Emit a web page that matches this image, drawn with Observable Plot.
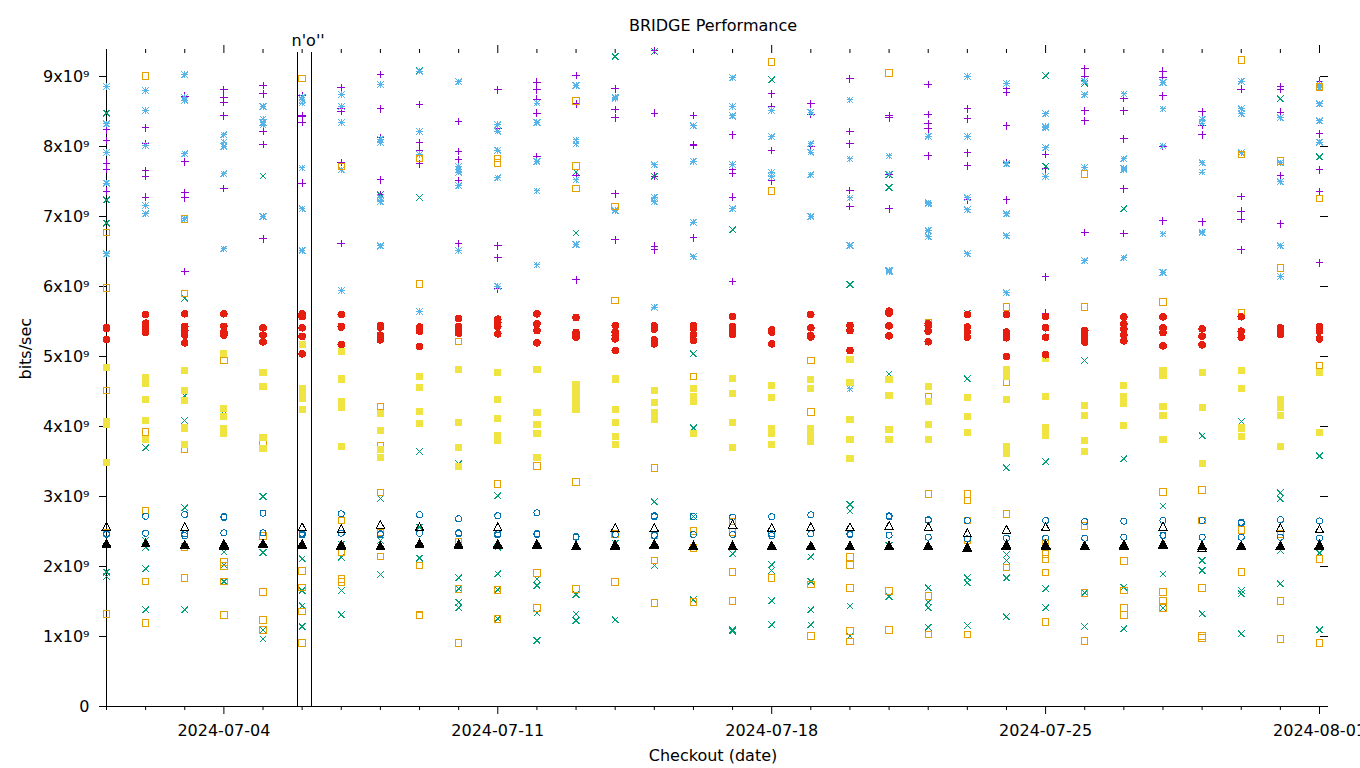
<!DOCTYPE html>
<html><head><meta charset="utf-8">
<script src="https://cdn.jsdelivr.net/npm/d3@7"></script>
<script src="https://cdn.jsdelivr.net/npm/@observablehq/plot@0.6"></script>
<style>
body{margin:0;background:#fff}
svg{display:block}
</style>
</head><body><div id="chart"></div>
<script>
// ---------- data (values in units of 1e9 bits/sec, one inner list per day 2024-07-01 .. 2024-08-01) ----------
const titleText = "BRIDGE Performance";
const xLabel = "Checkout (date)";
const yLabel = "bits/sec";
const firstDay = "2024-07-01";
const lastDay = "2024-08-01";
const majorTickDates = ["2024-07-04","2024-07-11","2024-07-18","2024-07-25","2024-08-01"];
const yTickValues = [0,1e9,2e9,3e9,4e9,5e9,6e9,7e9,8e9,9e9];
const yMax = 9.343e9;
const markerLineDates = ["2024-07-05T21:20Z","2024-07-06T05:55Z"];
const markerLabelDate = "2024-07-06T03:40Z";
const markerLabel = "n'o''";

const purplePlus = [
 [8.238,8.086,7.762,7.676,7.362],[8.267,8.04,7.657,7.571,7.276],[8.72,7.78,7.343,7.267,6.214],[8.81,8.695,8.633,8.438,7.4],
 [8.871,8.752,8.219,8.029,6.68],[8.73,8.44,8.43,8.343,7.476],[8.838,8.538,8.5,7.771,6.614],[9.028,8.538,8.124,7.524,7.31],
 [8.6,8.052,7.943,7.752],[8.357,7.929,7.81,7.514,6.614],[8.81,8.252,6.58,6.41,5.967],[8.919,8.81,8.676,8.476,7.857],
 [9.014,8.61,7.586,6.095],[8.824,8.529,8.41,7.324,6.667],[9.37,8.476,7.576,6.576,6.524],[8.443,8.03,8.02,6.695],
 [8.167,7.676,7.619,7.276,6.071],[8.752,8.571,7.943,7.51],[8.61,8.457,8.0],[8.967,8.214,8.038,7.371,7.143],
 [8.438,8.41,7.6,7.11],[8.886,8.457,8.324,8.252,7.867],[8.538,8.395,7.91,7.724,7.238],[8.824,8.776,8.295,7.771,7.238],
 [7.89,7.681,6.138,5.619],[9.11,9.0,8.51,8.367,6.771],[8.69,8.51,8.11,7.395,6.757],[9.076,8.99,8.724,8.0,6.938],
 [8.495,8.3,8.167,6.924],[8.819,7.286,7.076,6.962,6.524],[8.857,8.819,8.49,7.586,6.895],[8.933,8.181,7.667,7.357,6.338]
];
const greenTimes = [
 [8.476,7.238,6.905,1.919,1.857],[3.695,2.371,2.276,1.967,1.381],[5.833,4.44,4.086,2.838,1.381],[4.18,2.205,2.02,1.786],
 [7.581,3.0,2.2,1.095,0.967],[2.11,1.657,1.438,1.143],[2.32,2.133,1.657,1.31],[7.31,2.971,2.371,1.886],
 [9.086,7.271,3.643,2.562,2.119],[3.467,1.838,1.681,1.49,1.41],[3.01,2.276,1.895,1.667,1.252],[1.824,1.729,1.333,0.943],
 [7.633,6.767,1.6,1.324,1.229],[9.286,2.33,1.238],[9.357,7.576,2.924,2.014],[5.038,3.98,2.714,1.524],
 [6.81,2.181,1.095,1.08],[8.952,2.024,1.943,1.51,1.167],[2.138,1.786,1.381,1.167],[6.029,2.886,2.79,1.438,1.01],
 [7.6,7.414,4.75,2.3,1.571],[1.695,1.49,1.41,1.129],[5.62,4.68,1.838,1.767,1.157],[3.41,2.171,2.086,1.838,1.281],
 [9.01,7.719,3.495,1.681,1.41],[8.905,4.943,1.624,1.143],[7.11,3.538,1.705,1.11],[2.867,1.895,1.41],
 [3.867,2.086,1.943,1.324],[4.071,1.657,1.61,1.038],[8.681,3.052,2.967,2.229,1.752],[7.852,3.581,2.19,1.095]
];
const skyAsterisk = [
 [8.857,8.324,7.914,7.476,6.467],[8.8,8.514,8.014,7.157,7.038],[9.028,8.70,8.66,7.895,6.967],[8.167,8.062,8.0,7.61,6.538],
 [8.571,8.39,8.343,8.305,7.0],[8.705,8.667,8.62,7.695,7.11,6.514],[8.743,8.571,8.343,7.667,5.943],[8.886,8.105,8.057,7.267,7.21,6.58],
 [9.076,8.214,7.886,5.643],[8.924,7.714,7.676,7.633,7.438,6.514],[8.314,8.219,7.943,7.552,6.0],[8.619,8.343,7.786,7.367,6.31],
 [8.871,8.095,8.038,7.524,6.6],[8.705,8.69,7.086],[7.738,7.276,7.21,5.705],[8.295,7.79,6.919,6.424],
 [8.981,8.571,8.438,7.743,7.11],[8.514,8.138,7.629,7.571],[8.49,8.038,7.919,7.595,7.0],[8.667,7.824,7.267,6.586,4.538],
 [7.867,7.61,6.229,6.215],[8.143,7.195,7.18,6.8,6.714],[9.0,8.143,7.267,7.095,6.467],[8.9,7.752,7.038,6.724,5.91],
 [8.467,8.286,8.267,7.981,7.57],[8.933,8.738,7.7,6.367],[8.752,7.824,7.69,7.667,6.41],[8.914,8.538,8.01,6.752,6.2],
 [8.39,8.333,7.767,7.633,6.78,6.77],[8.933,8.538,8.467,7.91],[8.41,7.767,7.495,6.581,6.143],[8.886,8.838,8.61,8.367,8.062]
];
const orangeSquare = [
 [6.771,5.98,4.514,2.476,1.324],[9.009,3.924,2.8,1.786,1.195],[6.967,5.9,3.676,2.276,1.838],[4.943,2.062,2.005,1.786,1.31],
 [3.752,2.438,1.638,1.238,1.095],[8.971,1.938,1.7,1.357,0.91],[7.714,2.657,2.205,1.824,1.776],[4.286,3.729,3.057,2.49,2.143],
 [7.829,6.038,2.014,1.31,1.3],[5.214,2.348,1.681,0.91],[7.829,7.762,3.181,1.667,1.252],[3.438,1.91,1.41],
 [8.652,7.724,7.4,3.21,1.681],[7.143,5.8,2.467,1.781],[3.41,2.45,2.086,1.481],[4.714,2.505,2.267,1.495],
 [2.643,2.495,1.924,1.51],[9.209,7.367,1.838],[4.943,4.21,1.743,1.01],[2.138,2.024,1.695,1.081,0.929],
 [9.052,1.652,1.095],[5.476,4.419,3.038,1.576,1.029],[3.038,2.943,2.657,2.381,1.029],[5.71,4.633,2.752,1.986],
 [2.333,2.176,2.105,1.914,1.21],[7.61,5.71,2.576,1.624,0.938],[2.081,1.657,1.41,1.31],[5.781,3.067,1.638,1.514,1.41],
 [3.095,2.657,1.695,1.01,0.976],[9.238,7.886,5.619,2.524,1.924],[7.795,6.267,2.467,1.51,0.967],[8.848,7.257,4.871,2.11,0.91]
];
const yellowSquare = [
 [4.838,4.07,4.03,3.486],[4.70,4.62,4.381,4.086,3.81],[4.795,4.514,4.371,3.98,3.743],[5.038,4.252,4.143,3.967,3.905],
 [4.767,4.571,3.848,3.681],[5.17,4.54,4.47,4.40,4.238],[5.067,4.68,4.36,4.28,3.714],[4.19,3.938,3.667,3.552],
 [4.714,4.562,4.214,4.038],[4.81,4.062,3.705,3.429],[4.767,4.381,4.11,3.871,3.8],[4.82,4.195,4.024,3.895,3.552],
 [4.6,4.5,4.42,4.33,4.25],[4.68,4.238,4.052,3.857,3.743],[4.51,4.338,4.2,4.1],[4.54,4.43,4.357,3.895],
 [4.69,4.467,4.052,3.695],[4.581,4.41,3.97,3.9,3.743],[4.67,4.538,3.97,3.88,3.79],[4.952,4.633,4.095,3.81,3.538],
 [4.67,4.438,3.952,3.814],[4.571,4.357,4.029,3.814],[4.419,4.143,3.91],[4.81,4.714,4.381,3.714,3.62],
 [4.967,4.424,3.98,3.871],[4.3,4.16,3.795,3.638],[4.581,4.43,4.33,4.014],[4.8,4.73,4.286,4.157,3.81],
 [4.776,4.276,3.467],[4.8,4.538,3.98,3.86],[4.39,4.28,4.16,3.71],[4.776,3.919]
];
const blueCircle = [
 [2.47,2.46],[2.719,2.476],[2.743,2.467,2.44],[2.714,2.70,2.481],
 [2.762,2.48],[2.476,2.45,2.46],[2.752,2.476],[2.467,2.455],
 [2.738,2.476],[2.681,2.481,2.47],[2.724,2.467,2.45],[2.767,2.471,2.46],
 [2.429,2.42],[2.457],[2.724,2.71,2.448,2.44],[2.714,2.457],
 [2.705,2.457],[2.71,2.467,2.44],[2.738,2.467],[2.467,2.455],
 [2.724,2.71,2.448],[2.667,2.66,2.419],[2.657,2.395],[2.405],
 [2.657,2.405],[2.643,2.405],[2.648,2.419],[2.657,2.448,2.44],
 [2.657,2.419],[2.633,2.62,2.419],[2.667,2.419],[2.652,2.405]
];
const redDisc = [
 [5.41,5.40,5.24],[5.6,5.476,5.41,5.343],[5.61,5.43,5.37,5.305,5.195],[5.61,5.43,5.343,5.305],
 [5.41,5.305,5.21],[5.61,5.57,5.41,5.286,5.038],[5.6,5.43,5.42,5.17],[5.443,5.42,5.305,5.238],
 [5.42,5.362,5.143],[5.543,5.43,5.39,5.333],[5.533,5.486,5.43,5.324],[5.61,5.467,5.371,5.195],
 [5.557,5.343,5.31,5.276],[5.443,5.348,5.3,5.252,5.086],[5.438,5.39,5.238,5.181],[5.443,5.4,5.31,5.229],
 [5.571,5.43,5.381,5.314],[5.381,5.348,5.181],[5.6,5.41,5.3,5.28],[5.443,5.371,5.086],
 [5.647,5.619,5.438,5.295],[5.467,5.443,5.362,5.21],[5.6,5.42,5.348,5.276],[5.6,5.348,5.3,5.267,5.0],
 [5.571,5.41,5.276,5.024],[5.371,5.324,5.262,5.205],[5.567,5.467,5.395,5.31,5.224],[5.567,5.41,5.343,5.152],
 [5.395,5.29,5.167],[5.567,5.362,5.276],[5.41,5.371,5.314],[5.43,5.362,5.252]
];
const blackOpenTriangle = [
 [2.571,2.32],[2.333],[2.562,2.31],[2.31],
 [2.32],[2.562,2.31],[2.533,2.30],[2.595,2.29],
 [2.562,2.32],[2.31],[2.562,2.31],[2.31],
 [2.3],[2.552,2.30],[2.552,2.31],[2.29],
 [2.6,2.29],[2.552,2.29],[2.562,2.29],[2.562,2.29],
 [2.581,2.29],[2.562,2.29],[2.476,2.27],[2.524,2.30],
 [2.562,2.30],[2.3],[2.30],[2.571,2.31],
 [2.29,2.262],[2.29],[2.548,2.29],[2.533,2.30]
];
const blackFilledTriangle = [
 [2.333],[2.333],[2.314],[2.324,2.30],
 [2.333],[2.324],[2.314],[2.295],
 [2.333],[2.324],[2.324],[2.324],
 [2.3],[2.314],[2.324],[2.3],
 [2.3],[2.3],[2.3],[2.3],
 [2.3],[2.3],[2.276],[2.314],
 [2.314],[2.3],[2.314],[2.324],
 [2.3],[2.3],[2.3],[2.314]
];

// ---------- gnuplot-like point symbols ----------
function sym(fn){ return {draw(ctx, size){ fn(ctx, Math.sqrt(size / Math.PI)); }}; }
const plusSym = sym((c,s)=>{c.moveTo(-s,0);c.lineTo(s,0);c.moveTo(0,-s);c.lineTo(0,s);});
const timesSym = sym((c,s)=>{c.moveTo(-s,-s);c.lineTo(s,s);c.moveTo(-s,s);c.lineTo(s,-s);});
const starSym = sym((c,s)=>{c.moveTo(-s,0);c.lineTo(s,0);c.moveTo(0,-s);c.lineTo(0,s);
  c.moveTo(-s,-s);c.lineTo(s,s);c.moveTo(-s,s);c.lineTo(s,-s);});
const squareSym = sym((c,s)=>{c.rect(-s,-s,2*s,2*s);});
const circleSym = sym((c,s)=>{c.moveTo(s,0);c.arc(0,0,s,0,2*Math.PI);c.closePath();});
const triSym = sym((c,s)=>{c.moveTo(0,-s);c.lineTo(s,0.85*s);c.lineTo(-s,0.85*s);c.closePath();});

const seriesDefs = [
  {data: purplePlus, symbol: plusSym, r: 3.8, stroke: "#9400d3", fill: "none"},
  {data: greenTimes, symbol: timesSym, r: 3.3, stroke: "#009e73", fill: "none"},
  {data: skyAsterisk, symbol: starSym, r: 3.3, stroke: "#56b4e9", fill: "none"},
  {data: orangeSquare, symbol: squareSym, r: 3.2, stroke: "#e69f00", fill: "none"},
  {data: yellowSquare, symbol: squareSym, r: 3.6, stroke: "none", fill: "#f0e442"},
  {data: blueCircle, symbol: circleSym, r: 3.0, stroke: "#0072b2", fill: "none"},
  {data: redDisc, symbol: circleSym, r: 3.8, stroke: "none", fill: "#e51e10"},
  {data: blackOpenTriangle, symbol: triSym, r: 4.2, stroke: "#000000", fill: "none"},
  {data: blackFilledTriangle, symbol: triSym, r: 4.2, stroke: "#000000", fill: "#000000"}
];

const day0 = new Date(firstDay + "T00:00Z");
const dayDates = d3.utcDays(day0, d3.utcDay.offset(new Date(lastDay + "T00:00Z"), 1));
const majors = majorTickDates.map(d => new Date(d + "T00:00Z"));
const isMajor = d => majors.some(m => +m === +d);
const minors = dayDates.filter(d => !isMajor(d));

function rows(perDay){
  const out = [];
  perDay.forEach((vals, i) => vals.forEach(v => out.push({date: dayDates[i], value: v * 1e9})));
  return out;
}

const fmtY = v => v === 0 ? "0" : `${Math.round(v / 1e9)}x10\u2079`;
const font = "'DejaVu Sans', sans-serif";

const pointMarks = seriesDefs.map(s => Plot.dot(rows(s.data), {
  x: "date", y: "value", symbol: s.symbol, r: s.r,
  stroke: s.stroke, fill: s.fill, strokeWidth: 1, shapeRendering: "crispEdges"
}));

const chart = Plot.plot({
  width: 1360, height: 768,
  marginLeft: 106, marginRight: 41, marginTop: 52, marginBottom: 62,
  style: {fontFamily: font, fontSize: "16px", color: "#000", background: "#fff"},
  x: {type: "utc", domain: [day0, new Date(lastDay + "T00:00Z")], axis: null},
  y: {domain: [0, yMax], axis: null},
  marks: [
    // ticks (outward, mirrored top/right)
    Plot.axisX(minors, {anchor: "bottom", tickSize: 4, tickFormat: () => "", label: null, strokeWidth: 1}),
    Plot.axisX(majors, {anchor: "bottom", tickSize: 8, tickPadding: 10, tickFormat: d3.utcFormat("%Y-%m-%d"), label: null, fontSize: 16, strokeWidth: 1}),
    Plot.axisX(minors, {anchor: "top", tickSize: 4, tickFormat: () => "", label: null, strokeWidth: 1}),
    Plot.axisX(majors, {anchor: "top", tickSize: 8, tickFormat: () => "", label: null, strokeWidth: 1}),
    Plot.axisY(yTickValues, {anchor: "left", tickSize: 7, tickPadding: 10, tickFormat: fmtY, label: null, fontSize: 16, strokeWidth: 1}),
    Plot.axisY(yTickValues, {anchor: "right", tickSize: 8, tickFormat: () => "", label: null, strokeWidth: 1}),
    // border (left + bottom)
    Plot.ruleX([day0], {stroke: "#000", strokeWidth: 1, shapeRendering: "crispEdges"}),
    Plot.ruleY([0], {stroke: "#000", strokeWidth: 1, shapeRendering: "crispEdges"}),
    // annotation lines
    Plot.ruleX(markerLineDates.map(d => new Date(d)), {stroke: "#000", strokeWidth: 1, shapeRendering: "crispEdges"}),
    Plot.text([markerLabel], {x: () => new Date(markerLabelDate), frameAnchor: "top", lineAnchor: "middle", dy: -12, fontSize: 16, fill: "#000"}),
    ...pointMarks,
    // titles
    Plot.text([titleText], {frameAnchor: "top", lineAnchor: "middle", dy: -27, fontSize: 16, fill: "#000"}),
    Plot.text([xLabel], {frameAnchor: "bottom", lineAnchor: "middle", dy: 49, fontSize: 16, fill: "#000"}),
    Plot.text([yLabel], {frameAnchor: "left", lineAnchor: "middle", dx: -81, rotate: -90, fontSize: 16, fill: "#000"})
  ]
});
document.getElementById("chart").appendChild(chart);
</script>
</body></html>
